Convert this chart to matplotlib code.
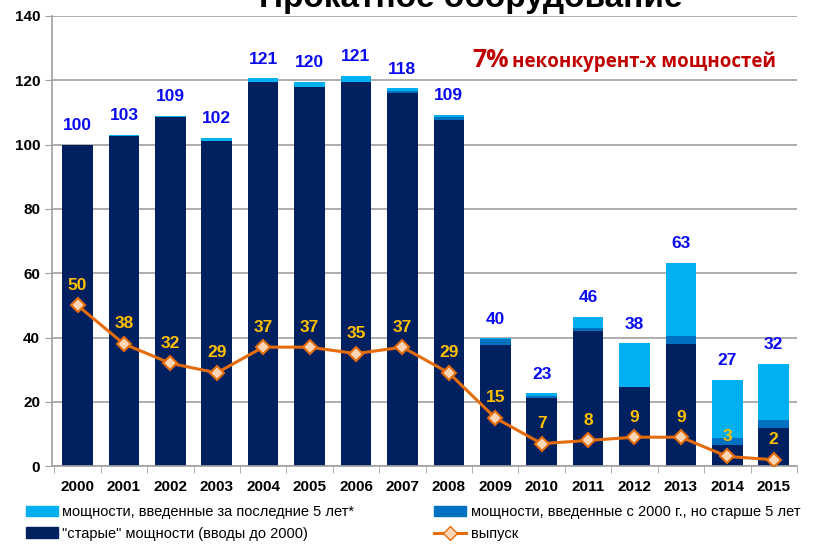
import numpy as np
import matplotlib
matplotlib.use('Agg')
import matplotlib.pyplot as plt
from matplotlib.patches import Patch
from matplotlib.lines import Line2D

years = ['2000', '2001', '2002', '2003', '2004', '2005', '2006', '2007',
         '2008', '2009', '2010', '2011', '2012', '2013', '2014', '2015']
# "старые" мощности (вводы до 2000)
old_cap = [100, 102.6, 108.6, 101, 119.5, 118.0, 119.5, 116.2,
           107.7, 37.8, 21.3, 42.0, 24.5, 38.1, 6.5, 12.0]
# мощности, введенные с 2000 г., но старше 5 лет
mid_cap = [0, 0, 0, 0, 0, 0, 0, 0.5,
           1.0, 1.6, 0.6, 1.0, 0, 2.4, 2.3, 2.3]
# мощности, введенные за последние 5 лет
new_cap = [0, 0.4, 0.4, 1.0, 1.1, 1.5, 1.8, 0.8,
           0.5, 0.3, 0.7, 3.4, 13.7, 22.6, 17.9, 17.6]
total_labels = [100, 103, 109, 102, 121, 120, 121, 118,
                109, 40, 23, 46, 38, 63, 27, 32]
output = [50, 38, 32, 29, 37, 37, 35, 37, 29, 15, 7, 8, 9, 9, 3, 2]

c_old = '#002060'
c_mid = '#0070C0'
c_new = '#00B0F0'
c_line = '#E46C0A'

plt.rcParams['font.family'] = ['Liberation Sans', 'DejaVu Sans']

fig = plt.figure(figsize=(8.25, 5.51), dpi=100, facecolor='white')
ax = fig.add_axes([0.063, 0.154, 0.903, 0.817])

x = np.arange(len(years))
w = 0.66
old_a = np.array(old_cap)
mid_a = np.array(mid_cap)
new_a = np.array(new_cap)
ax.bar(x, old_a, w, color=c_old, zorder=2)
ax.bar(x, mid_a, w, bottom=old_a, color=c_mid, zorder=2)
ax.bar(x, new_a, w, bottom=old_a + mid_a, color=c_new, zorder=2)
ax.plot(x, output, color=c_line, lw=2.2, marker='D', ms=7,
        mfc='#FCD5B5', mec=c_line, mew=1.5, zorder=4)

tops = old_a + mid_a + new_a
for xi, t, lab in zip(x, tops, total_labels):
    ax.annotate(str(lab), (xi, t), xytext=(0, 8.5), textcoords='offset points',
                ha='center', va='bottom', color='#0A0AF0', fontsize=12.5,
                fontweight='bold')
for xi, v in zip(x, output):
    ax.annotate(str(v), (xi, v), xytext=(0, 9), textcoords='offset points',
                ha='center', va='bottom', color='#FFC000', fontsize=12.5,
                fontweight='bold')

ax.set_xlim(-0.55, 15.5)
ax.set_ylim(0, 140)
ax.set_yticks(np.arange(0, 141, 20))
ax.yaxis.grid(True, color='#A0A0A0', lw=1.2, zorder=0)
ax.set_axisbelow(True)
ax.set_xticks(x)
ax.set_xticklabels(years, fontsize=11, fontweight='bold')
ax.set_xticks(np.arange(-0.5, 15.6, 1), minor=True)
ax.tick_params(axis='x', which='major', length=0, pad=10)
ax.tick_params(axis='x', which='minor', length=5, color='#A0A0A0')
ax.tick_params(axis='y', length=5, color='#A0A0A0', labelsize=11)
for lbl in ax.get_yticklabels():
    lbl.set_fontweight('bold')
for s in ['top', 'right']:
    ax.spines[s].set_visible(False)
for s in ['left', 'bottom']:
    ax.spines[s].set_color('#A0A0A0')
    ax.spines[s].set_linewidth(1.2)

# title is cut at the top edge in the reference
fig.text(0.571, 1 - 7 / 551, 'Прокатное оборудование', ha='center',
         va='baseline', fontsize=24, fontweight='bold')
fig.text(0.572, 1 - 67 / 551, '7%', ha='left', va='baseline', fontsize=18,
         fontweight='bold', color='#C00000', family=['Open Sans', 'DejaVu Sans'])
fig.text(0.621, 1 - 67 / 551, 'неконкурент-х мощностей', ha='left',
         va='baseline', fontsize=13.5, fontweight='bold', color='#C00000',
         family=['Open Sans', 'DejaVu Sans'])

handles = [Patch(color=c_new), Patch(color=c_old), Patch(color=c_mid),
           Line2D([], [], color=c_line, lw=2.2, marker='D', ms=7,
                  mfc='#FCD5B5', mec=c_line)]
labels = ['мощности, введенные за последние 5 лет*',
          '"старые" мощности (вводы до 2000)',
          'мощности, введенные с 2000 г., но старше 5 лет',
          'выпуск']
fig.legend(handles, labels, ncol=2, loc='lower left',
           bbox_to_anchor=(0.015, -0.005), frameon=False, fontsize=10.5,
           handlelength=2.2, handletextpad=0.3, columnspacing=5.5,
           labelspacing=0.5)

fig.savefig('out.png', dpi=100, facecolor='white')
